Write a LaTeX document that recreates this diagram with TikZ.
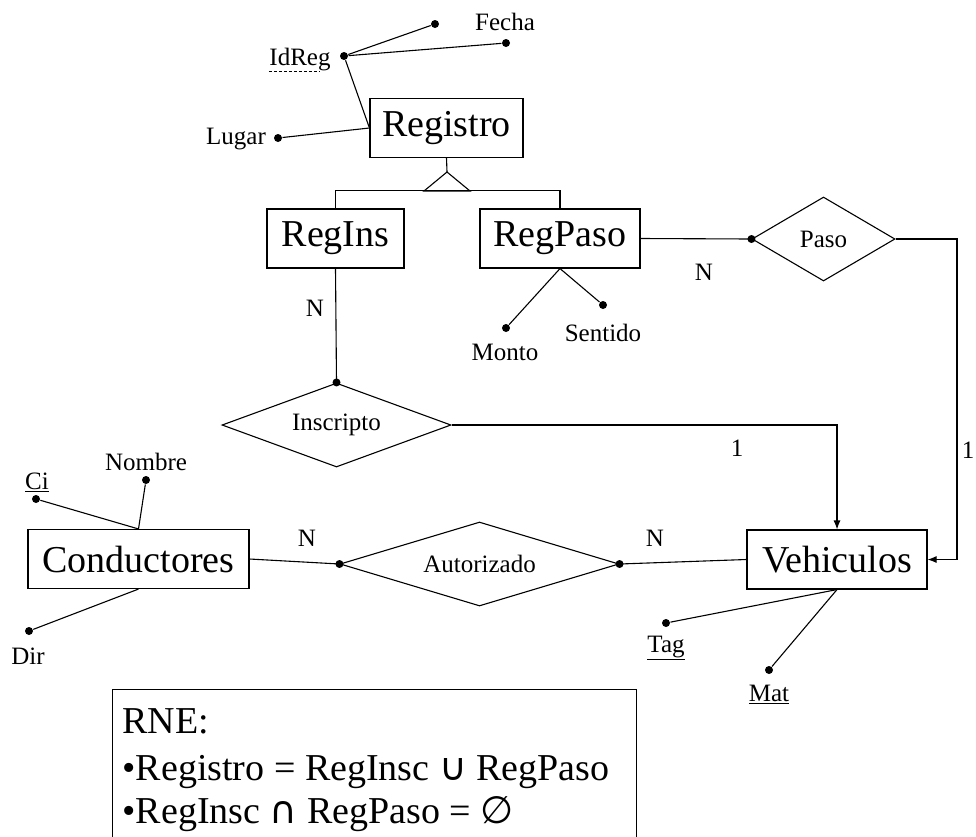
\documentclass[tikz,border=0pt]{standalone}
\usepackage{fontspec}
\setmainfont{Liberation Serif}
\newfontfamily\symfnt{DejaVu Sans}
\usetikzlibrary{shapes.geometric,arrows.meta}

\begin{document}
\begin{tikzpicture}[x=1pt,y=-1pt,line width=1.1pt]
% Styles
\tikzstyle{entity box}=[draw, rectangle, font=\fontsize{38}{40}\selectfont, minimum height=59pt, inner sep=0pt]
\tikzstyle{rel diamond}=[draw, diamond, font=\fontsize{25}{27}\selectfont, inner sep=0pt, minimum height=84pt]
\tikzstyle{attr dot}=[circle, fill=black, inner sep=0pt, minimum size=8pt]
\tikzstyle{small text}=[font=\fontsize{25}{27}\selectfont, inner sep=0pt]
\tikzstyle{rne text}=[font=\fontsize{38}{40}\selectfont, anchor=base west, inner sep=0pt]

\useasboundingbox (0,0) rectangle (976,836);

% the entities
\node[entity box, minimum width=153pt] (Registro) at (446.5,128) {Registro};
\node[entity box, minimum width=137pt] (RegIns) at (335.5,238.5) {RegIns};
\node[entity box, minimum width=160pt] (RegPaso) at (560,238.5) {RegPaso};
\node[entity box, minimum width=221pt] (Conductores) at (138.5,559) {Conductores};
\node[entity box, minimum width=180pt] (Vehiculos) at (837,559.5) {Vehiculos};

% the relationships
\node[rel diamond, minimum width=143pt, aspect=1.7] (Paso) at (823.5,239) {Paso};
\node[rel diamond, minimum width=229pt, aspect=2.7] (Inscripto) at (336.5,425) {Inscripto};
\node[rel diamond, minimum width=279pt, aspect=3.3] (Autorizado) at (479.5,564) {Autorizado};

% attribute dots
\foreach \name/\x/\y in {fechab/435/24, fecha/506/43, idreg/344/56, lugar/278/138,
monto/506/328, sentido/603/305, ci/36/499, nombre/146/480, dir/29/631,
tag/666/623, mat/769/670} {
\node[attr dot] (\name) at (\x,\y) {};
}

% attribute names
\node[small text] (fechatxt) at (505,22) {Fecha};
\node[small text] (idregtxt) at (300,60) {IdReg};
\draw[line width=0.8pt, dash pattern=on 3pt off 2pt] ([yshift=-5pt]idregtxt.base west) -- ([yshift=-5pt,xshift=-12pt]idregtxt.base east);
\node[small text] (lugartxt) at (236,139) {Lugar};
\node[small text] (montotxt) at (505,352) {Monto};
\node[small text] (sentidotxt) at (603,333) {Sentido};
\node[small text] (citxt) at (37,482) {\underline{Ci}};
\node[small text] (nombretxt) at (146,462) {Nombre};
\node[small text] (dirtxt) at (28,656) {Dir};
\node[small text] (tagtxt) at (666,648) {\underline{Tag}};
\node[small text] (mattxt) at (769,694) {\underline{Mat}};

% lines from the attributes
\foreach \a/\b in {idreg/fechab, idreg/fecha, idreg/Registro.west, lugar/Registro.west,
monto/RegPaso.south, sentido/RegPaso.south, ci/Conductores.north, nombre/Conductores.north,
dir/Conductores.south, tag/Vehiculos.south, mat/Vehiculos.south} {
\draw (\a) -- (\b);
}

% the specialization
\coordinate (isa) at (447,172);
\draw (Registro.south) -- (isa);
\draw (isa) -- ++(-23,19) -- ++(46,0) -- cycle;
\draw (RegIns.north) -- ++(0,-18) -| (RegPaso.north);

% relationship lines
\coordinate (pasoturn) at (957,239);
\draw (RegPaso.east) -- (Paso.west);
\draw[-{Latex[length=9pt,width=7pt]}] (Paso.east) -- (pasoturn) |- (Vehiculos.east);
\draw (RegIns.south) -- (Inscripto.north);
\draw[-{Latex[length=9pt,width=7pt]}] (Inscripto.east) -| (Vehiculos.north);
\draw (Conductores.east) -- (Autorizado.west);
\draw (Autorizado.east) -- (Vehiculos.west);
\foreach \p in {Paso.west, Inscripto.north, Autorizado.west, Autorizado.east} {
\fill (\p) circle (4pt);
}

% cardinalities
\node[small text] (nins) at (315,308) {N};
\node[small text] (npaso) at (704,272) {N};
\node[small text] (unoins) at (737,448) {1};
\node[small text] (unopaso) at (968,450) {1};
\node[small text] (ncond) at (307,538) {N};
\node[small text] (nveh) at (655,538) {N};

% restrictions box
\node[draw, anchor=north west, minimum width=524pt, minimum height=175pt, inner sep=0pt] (rne) at (112,689) {};
\node[rne text] (rnea) at (122,733) {RNE:};
\node[rne text] (rneb) at (122,780) {•Registro = RegInsc {\symfnt ∪} RegPaso};
\node[rne text] (rnec) at (122,823) {•RegInsc {\symfnt ∩} RegPaso = {\symfnt ∅}};

\end{tikzpicture}
\end{document}
